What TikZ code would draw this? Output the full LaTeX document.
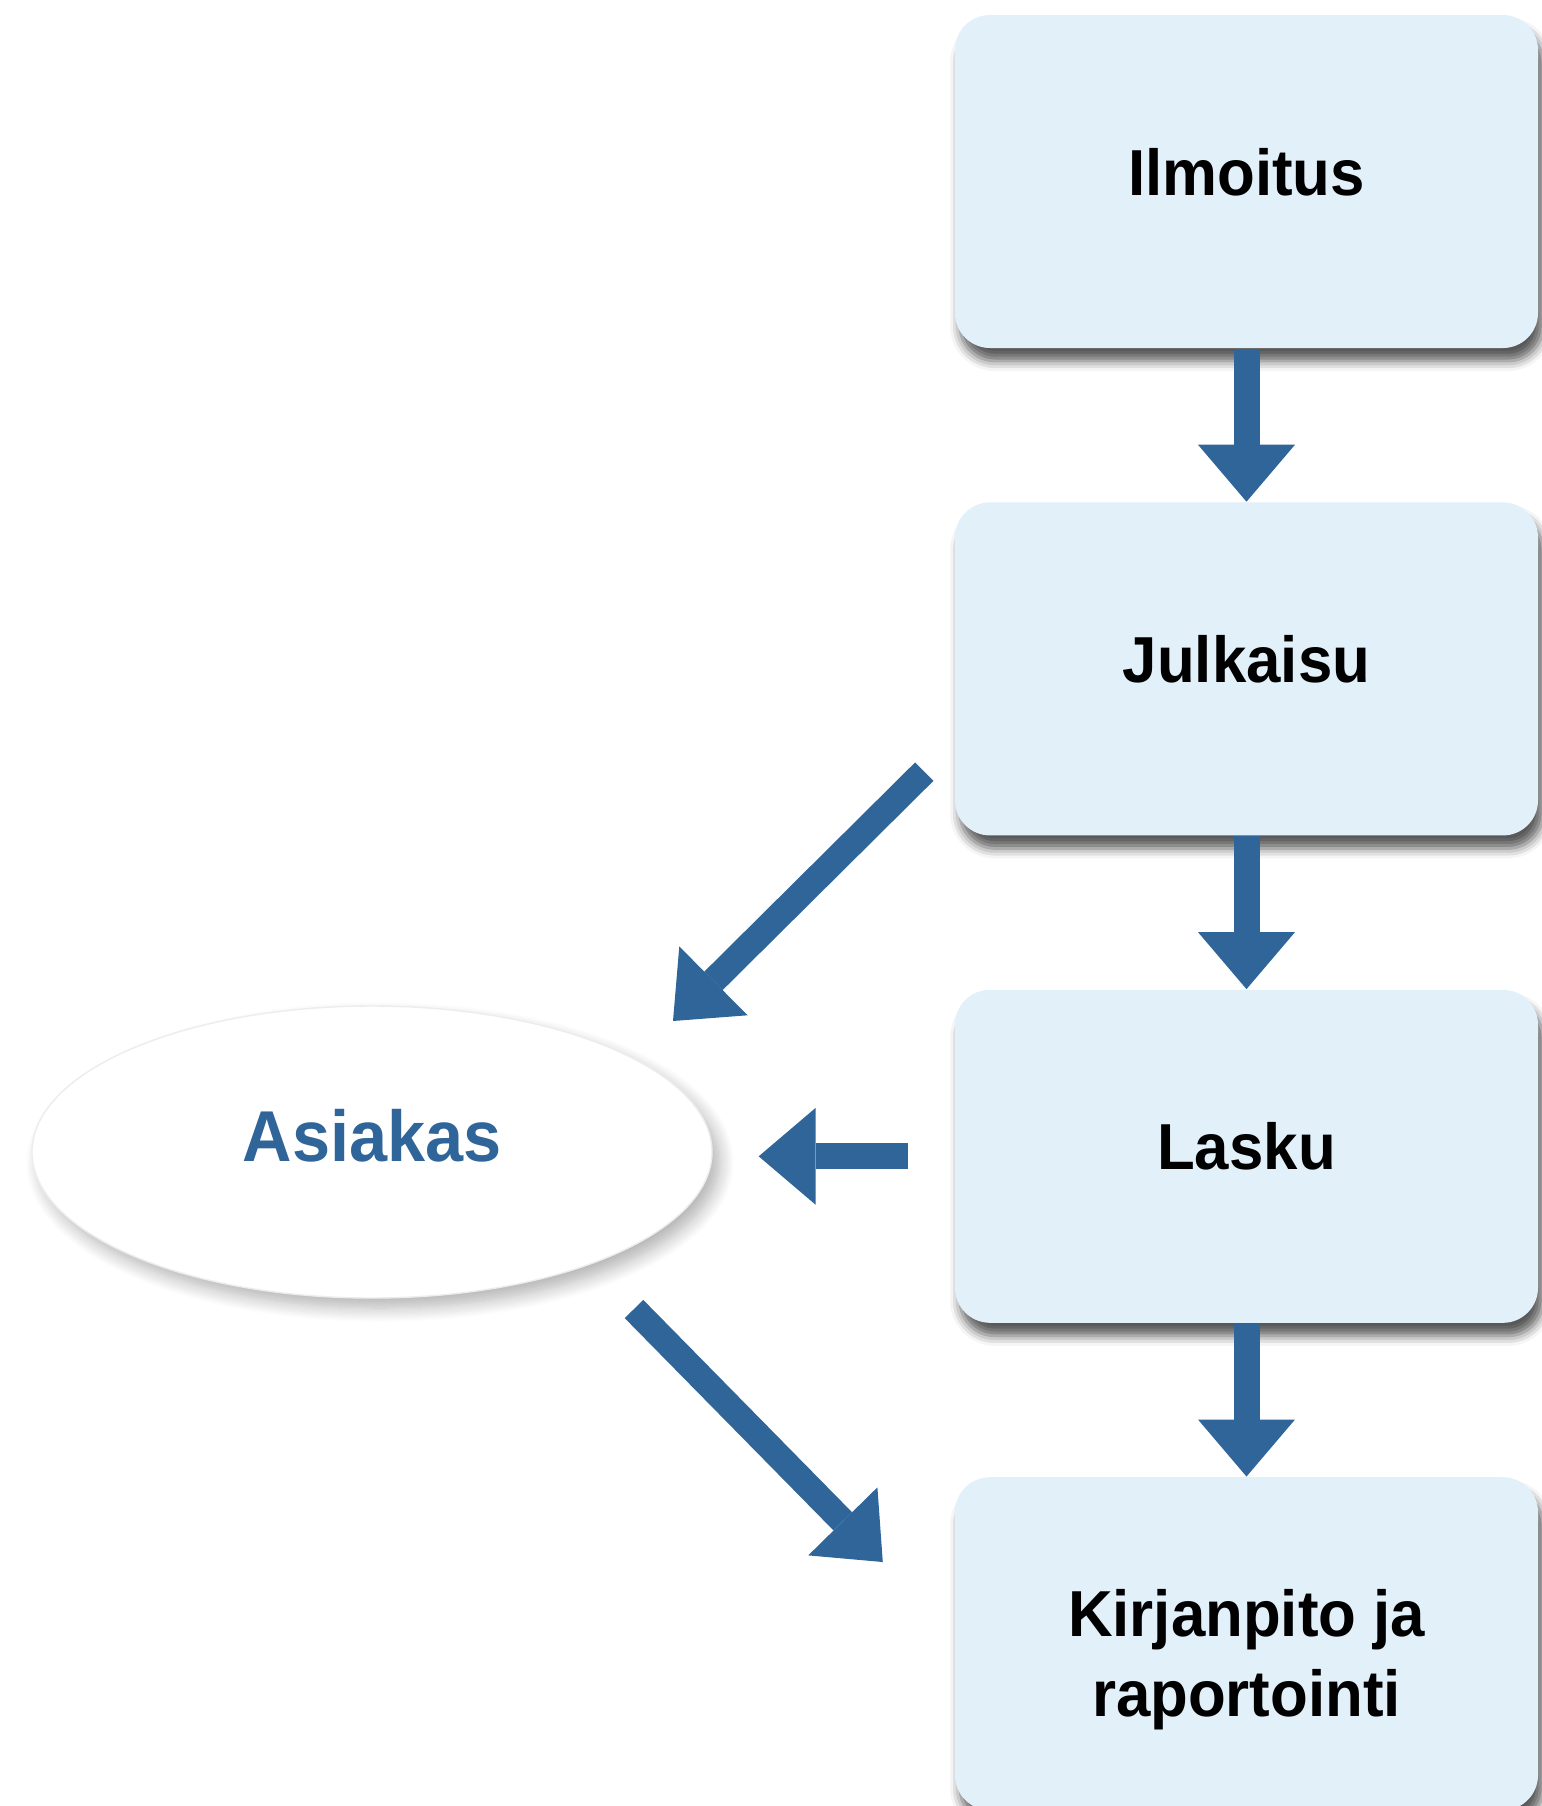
\documentclass[tikz,border=0pt]{standalone}
\usepackage{fontspec}
\setmainfont{Liberation Sans}[FakeStretch=0.95]
\usetikzlibrary{positioning}
\usetikzlibrary{shapes.geometric}
\usetikzlibrary{arrows.meta}
\usetikzlibrary{shadows.blur}
\definecolor{boxblue}{HTML}{E2F0FA}
\definecolor{arrowblue}{HTML}{2F6599}
\tikzset{
  stepbox/.style={rectangle, rounded corners=0.35cm, fill=boxblue,
    minimum width=5.83cm, minimum height=3.33cm, text depth=0.2cm,
    align=center, font=\bfseries\fontsize{18.5}{22.8}\selectfont,
    blur shadow={shadow xshift=0.05cm, shadow yshift=-0.13cm,
      shadow blur radius=0.1cm, shadow opacity=65}},
  flow/.style={arrowblue, line width=0.26cm,
    -{Triangle[width=0.97cm, length=0.57cm, line width=0pt]}}
}

\begin{document}
\begin{tikzpicture}
  \useasboundingbox (0,0) rectangle (15.42,-18.06);
  % process boxes
  \node[stepbox] (ilm) at (12.465,-1.815) {Ilmoitus};
  \node[stepbox, below=1.53cm of ilm] (julk) {Julkaisu};
  \node[stepbox, below=1.53cm of julk] (lasku) {Lasku};
  \node[stepbox, below=1.53cm of lasku, text depth=0pt] (kirj) {\rule{0pt}{0.65cm}Kirjanpito ja\\raportointi};
  % customer
  \node[ellipse, fill=white, draw=black!7, minimum width=6.8cm, minimum height=2.92cm,
    inner sep=0pt, text=arrowblue, text depth=0.34cm,
    font=\bfseries\fontsize{20.5}{24}\selectfont,
    blur shadow={shadow xshift=0.08cm, shadow yshift=-0.1cm,
      shadow blur radius=0.14cm, shadow blur steps=12, shadow opacity=30}] (asiakas) at (3.72,-11.52) {Asiakas};
  % free ends of the diagonal arrows
  \coordinate (jtail) at ([shift={(-0.30,0.645)}]julk.south west);
  \coordinate (ahead) at ([shift={(3.01,1.31)}]asiakas.center);
  \coordinate (atail) at ([shift={(2.62,-1.57)}]asiakas.center);
  \coordinate (khead) at ([shift={(-0.715,-0.855)}]kirj.north west);
  % arrows
  \draw[flow] (ilm) -- (julk);
  \draw[flow] (julk) -- (lasku);
  \draw[flow] (lasku) -- (kirj);
  \draw[flow] (jtail) -- (ahead);
  \draw[flow, shorten <=0.46cm, shorten >=0.46cm] (lasku.west) -- (asiakas.east |- lasku.west);
  \draw[flow] (atail) -- (khead);
\end{tikzpicture}
\end{document}
